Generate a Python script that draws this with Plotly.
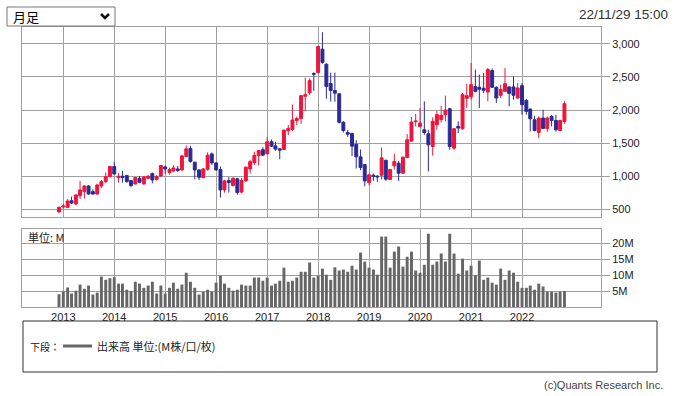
import plotly.graph_objects as go
import pandas as pd

# ---------------- data ----------------
months = pd.date_range("2012-12-01", "2022-11-01", freq="MS").strftime("%Y-%m-%d").tolist()

open_ = [459, 534, 529, 630, 580, 706, 767, 853, 767, 731, 853, 918,
         994, 1146, 979, 999, 1009, 933, 883, 968, 883, 968, 1039, 953,
         1004, 1140, 1055, 1080, 1110, 1095, 1297, 1418, 1211, 1095, 979, 1105,
         1337, 1201, 1100, 793, 934, 858, 960, 760, 929, 1110, 1205, 1310,
         1400, 1338, 1520, 1459, 1414, 1404, 1686, 1706, 1843, 1873, 2207, 2262,
         2550, 2565, 2919, 2691, 2400, 2295, 2245, 1815, 1660, 1646, 1479, 1292,
         1176, 904, 1015, 1000, 1015, 1240, 950, 1156, 1197, 1045, 1283, 1530,
         1823, 1752, 1700, 1641, 1449, 1778, 1853, 1929, 2020, 1424, 1752, 1717,
         2176, 2202, 2353, 2343, 2328, 2272, 2596, 2343, 2222, 2282, 2348, 2348,
         2181, 2368, 2145, 2014, 1852, 1661, 1878, 1721, 1903, 1842, 1691, 1827]
high = [540, 580, 656, 691, 726, 928, 868, 863, 802, 878, 943, 1055,
        1156, 1216, 1045, 1080, 1019, 943, 989, 1004, 999, 1019, 1055, 1019,
        1171, 1161, 1130, 1166, 1156, 1317, 1464, 1459, 1221, 1105, 1125, 1358,
        1358, 1211, 1146, 944, 984, 980, 975, 975, 1146, 1245, 1370, 1395,
        1440, 1590, 1555, 1520, 1424, 1706, 1772, 2085, 1900, 2227, 2490, 2479,
        2570, 2969, 3175, 2707, 2565, 2565, 2255, 1833, 1696, 1656, 1545, 1404,
        1176, 1040, 1040, 1015, 1434, 1250, 1110, 1338, 1232, 1298, 1636, 1894,
        1939, 2030, 2130, 1702, 1889, 1990, 2065, 2217, 2030, 1727, 1828, 2257,
        2398, 2712, 2611, 2535, 2560, 2636, 2626, 2358, 2383, 2636, 2358, 2510,
        2409, 2409, 2166, 2020, 1913, 1903, 2004, 1903, 1923, 1929, 1852, 2130]
low = [449, 510, 519, 580, 560, 656, 661, 721, 721, 721, 817, 893,
       984, 1024, 903, 903, 903, 832, 873, 893, 873, 953, 893, 933,
       994, 1039, 1024, 1060, 1065, 1085, 1287, 1206, 953, 943, 969, 1085,
       1171, 1085, 676, 752, 752, 848, 722, 740, 919, 1040, 1170, 1160,
       1303, 1330, 1440, 1384, 1257, 1394, 1620, 1686, 1772, 1790, 1980, 2227,
       2290, 2555, 2700, 2170, 2126, 2126, 1797, 1660, 1595, 1303, 1116, 1090,
       848, 863, 929, 914, 949, 930, 940, 1100, 929, 1035, 1270, 1520,
       1752, 1737, 1626, 1070, 1313, 1702, 1813, 1828, 1399, 1399, 1651, 1702,
       2030, 2156, 2267, 2030, 2257, 2131, 2333, 2106, 2181, 2282, 2055, 2156,
       2171, 1929, 1929, 1676, 1676, 1575, 1716, 1670, 1752, 1676, 1686, 1792]
close = [529, 550, 625, 595, 716, 792, 853, 731, 731, 868, 918, 994,
         1146, 1034, 999, 979, 918, 858, 979, 908, 989, 999, 943, 994,
         1161, 1110, 1100, 1125, 1085, 1307, 1413, 1221, 1095, 984, 1110, 1317,
         1201, 1095, 793, 929, 904, 970, 752, 935, 1136, 1220, 1315, 1388,
         1318, 1520, 1454, 1409, 1394, 1696, 1722, 1848, 1873, 2217, 2232, 2444,
         2540, 2959, 2717, 2356, 2295, 2255, 1815, 1690, 1635, 1454, 1292, 1131,
         929, 1020, 1000, 990, 1277, 955, 1100, 1222, 1045, 1288, 1550, 1818,
         1833, 1803, 1660, 1474, 1828, 1929, 1919, 2000, 1449, 1717, 1727, 2232,
         2217, 2383, 2282, 2313, 2297, 2611, 2343, 2181, 2308, 2398, 2252, 2222,
         2333, 2080, 1979, 1868, 1691, 1878, 1721, 1878, 1842, 1701, 1842, 2095]

# volume in millions
volume = [4.0, 4.9, 6.1, 4.2, 5.1, 7.0, 5.7, 6.7, 3.9, 4.5, 9.5, 8.5,
          9.0, 9.3, 7.3, 7.3, 5.4, 4.9, 7.9, 7.3, 6.0, 6.7, 7.9, 4.2,
          6.7, 4.2, 6.0, 7.6, 5.7, 7.0, 10.7, 7.9, 6.0, 3.9, 4.8, 5.4,
          4.8, 7.6, 9.8, 7.3, 6.0, 5.1, 5.4, 7.0, 6.7, 6.7, 9.2, 9.2,
          8.2, 9.2, 6.7, 7.3, 8.2, 12.3, 7.9, 8.2, 9.2, 11.0, 11.0, 13.9,
          9.2, 9.8, 12.0, 10.1, 8.5, 12.4, 11.4, 11.7, 11.0, 12.9, 11.7, 17.0,
          14.2, 12.3, 11.7, 10.1, 22.0, 22.0, 12.3, 17.3, 18.9, 12.6, 15.7, 17.3,
          11.4, 10.7, 13.2, 22.9, 13.2, 14.2, 16.7, 14.2, 22.9, 16.7, 10.4, 15.1,
          11.4, 12.9, 9.9, 14.5, 8.5, 9.2, 7.6, 7.0, 12.0, 8.5, 11.4, 10.7,
          7.9, 6.0, 6.0, 6.7, 5.4, 7.3, 6.4, 4.8, 4.8, 4.5, 4.8, 5.0]

years = ["2013", "2014", "2015", "2016", "2017", "2018", "2019", "2020", "2021", "2022"]
year_ticks = [y + "-01-01" for y in years]
price_ticks = [500, 1000, 1500, 2000, 2500, 3000]
price_labels = ["500", "1,000", "1,500", "2,000", "2,500", "3,000"]
vol_ticks = [5, 10, 15, 20]
vol_labels = ["5M", "10M", "15M", "20M"]

# ---------------- style ----------------
RED = "#f0143c"
BLUE = "#2a2a96"
VOLC = "#666666"
GRID = "#a0a0a0"
TXT = "#222222"
NUMFONT = "Liberation Sans, Arial, sans-serif"
JPFONT = "Noto Sans CJK JP, sans-serif"

W, H = 676, 396
L, R, T, B = 22, 601, 27, 307


def fx(x):
    return (x - L) / (R - L)


def fy(y):
    return (B - y) / (B - T)


fig = go.Figure()
fig.add_trace(go.Candlestick(
    x=months, open=open_, high=high, low=low, close=close,
    increasing=dict(line=dict(color=RED, width=1), fillcolor=RED),
    decreasing=dict(line=dict(color=BLUE, width=1), fillcolor=BLUE),
    whiskerwidth=0, xaxis="x", yaxis="y", hoverinfo="skip", showlegend=False))
fig.add_trace(go.Bar(
    x=months, y=volume, marker=dict(color=VOLC, line=dict(width=0)),
    xaxis="x2", yaxis="y2", hoverinfo="skip", showlegend=False))

xrange = ["2012-03-11", "2023-07-21"]
axis_common = dict(showgrid=True, gridcolor=GRID, gridwidth=1, showline=True,
                   linecolor=GRID, linewidth=1, mirror=True, zeroline=False)

fig.update_layout(
    width=W, height=H, autosize=False,
    margin=dict(l=L, r=W - R, t=T, b=H - B, pad=0),
    paper_bgcolor="white", plot_bgcolor="white",
    bargap=0.25, boxgap=0.25, boxgroupgap=0,
    showlegend=False,
    xaxis=dict(domain=[0, 1], anchor="y", type="date", range=xrange,
               tickvals=year_ticks, showticklabels=False, ticks="",
               rangeslider=dict(visible=False), **axis_common),
    yaxis=dict(domain=[fy(217.3), 1], anchor="x", side="right",
               range=[379, 3254], tickvals=price_ticks, ticktext=price_labels,
               ticks="outside", ticklen=8, tickcolor=GRID,
               tickfont=dict(family=NUMFONT, size=11, color=TXT), **axis_common),
    xaxis2=dict(domain=[0, 1], anchor="y2", type="date", range=xrange,
                tickvals=year_ticks, ticktext=years, ticks="",
                tickfont=dict(family=NUMFONT, size=11, color=TXT), **axis_common),
    yaxis2=dict(domain=[0, fy(229)], anchor="x2", side="right",
                range=[0, 24.375], tickvals=vol_ticks, ticktext=vol_labels,
                ticks="outside", ticklen=8, tickcolor=GRID,
                tickfont=dict(family=NUMFONT, size=11, color=TXT), **axis_common),
)

shapes = [
    # dropdown box
    dict(type="rect", xref="paper", yref="paper", x0=fx(7), x1=fx(115), y0=fy(26), y1=fy(7),
         line=dict(color="#767676", width=1), fillcolor="white"),
    # dropdown chevron
    dict(type="path", xref="paper", yref="paper",
         path=f"M {fx(101)} {fy(14)} L {fx(105)} {fy(18)} L {fx(109)} {fy(14)}",
         line=dict(color="#111111", width=2.5)),
    # legend box
    dict(type="rect", xref="paper", yref="paper", x0=fx(23), x1=fx(657), y0=fy(372), y1=fy(321),
         line=dict(color="#333333", width=1)),
    # legend line sample
    dict(type="line", xref="paper", yref="paper", x0=fx(63), x1=fx(92), y0=fy(346), y1=fy(346),
         line=dict(color=VOLC, width=3)),
]

annotations = [
    dict(text="月足", x=fx(11), y=fy(16.5), xanchor="left", yanchor="middle",
         font=dict(family=JPFONT, size=13, color="#000000")),
    dict(text="22/11/29 15:00", x=fx(670), y=fy(15), xanchor="right", yanchor="middle",
         font=dict(family=NUMFONT, size=13.5, color="#333333")),
    dict(text="単位: M", x=fx(26), y=fy(237), xanchor="left", yanchor="middle",
         font=dict(family=JPFONT, size=11, color=TXT)),
    dict(text="下段：", x=fx(28), y=fy(346), xanchor="left", yanchor="middle",
         font=dict(family=JPFONT, size=10, color=TXT)),
    dict(text="出来高 単位:(M株/口/枚)", x=fx(95), y=fy(346), xanchor="left", yanchor="middle",
         font=dict(family=JPFONT, size=11, color=TXT)),
    dict(text="(c)Quants Research Inc.", x=fx(665), y=fy(385), xanchor="right", yanchor="middle",
         font=dict(family=NUMFONT, size=11, color="#444444")),
]
for a in annotations:
    a.update(xref="paper", yref="paper", showarrow=False)

fig.update_layout(shapes=shapes, annotations=annotations)

fig.write_html("out.html",
               config={"displayModeBar": False},
               post_script="document.body.style.margin='0';document.body.style.padding='0';")
